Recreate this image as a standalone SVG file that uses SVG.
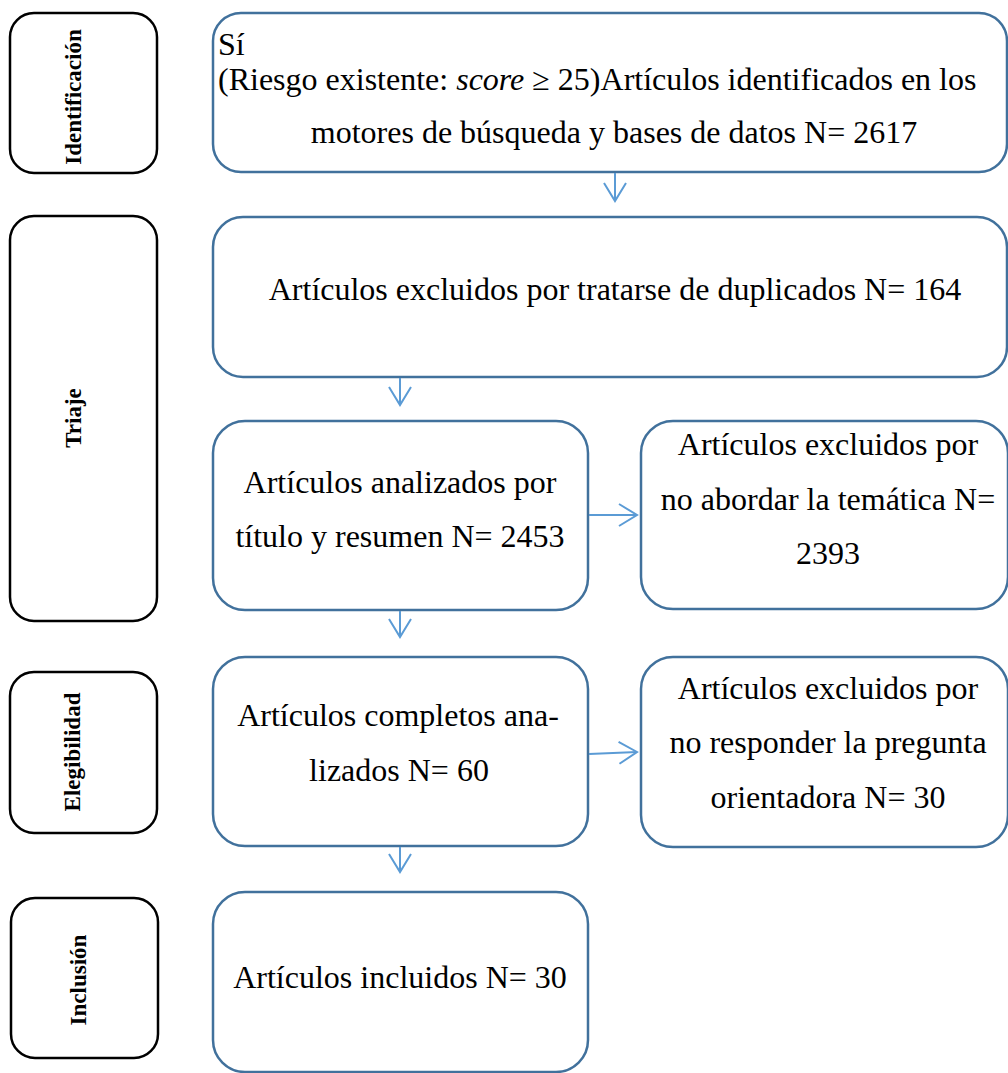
<svg xmlns="http://www.w3.org/2000/svg" width="1008" height="1073" viewBox="0 0 1008 1073">
  <defs>
    <style>
      .stage { fill: #ffffff; stroke: #000000; stroke-width: 2.5; }
      .box { fill: #ffffff; stroke: #41719C; stroke-width: 2.5; }
      .lbl { font-family: "Liberation Serif", "Times New Roman", serif; font-weight: bold; font-size: 23px; fill: #000; text-anchor: middle; }
      .txt { font-family: "Liberation Serif", "Times New Roman", serif; font-size: 32px; fill: #000; text-anchor: middle; }
      .conn { stroke: #5B9BD5; stroke-width: 2; fill: none; }
    </style>
    <marker id="arr" markerWidth="22" markerHeight="26" refX="20" refY="13" orient="auto" markerUnits="userSpaceOnUse">
      <path d="M2,2 L20,13 L2,24" fill="none" stroke="#5B9BD5" stroke-width="2"/>
    </marker>
  </defs>
  <rect width="1008" height="1073" fill="#ffffff"/>

  <g id="stage-identificacion">
    <rect class="stage" x="10" y="13" width="147" height="160" rx="24"/>
    <text class="lbl" transform="translate(81,97) rotate(-90)">Identificación</text>
  </g>
  <g id="stage-triaje">
    <rect class="stage" x="10" y="216" width="147" height="405" rx="24"/>
    <text class="lbl" transform="translate(81,418) rotate(-90)">Triaje</text>
  </g>
  <g id="stage-elegibilidad">
    <rect class="stage" x="10" y="672" width="147" height="161" rx="24"/>
    <text class="lbl" transform="translate(80,752) rotate(-90)">Elegibilidad</text>
  </g>
  <g id="stage-inclusion">
    <rect class="stage" x="11" y="898" width="147" height="160" rx="24"/>
    <text class="lbl" transform="translate(86,980) rotate(-90)">Inclusión</text>
  </g>

  <g id="node-identificados">
    <rect class="box" x="213" y="13" width="794" height="159" rx="28"/>
    <text class="txt" x="218" y="55" text-anchor="start" style="text-anchor:start">Sí</text>
    <text class="txt" x="218" y="90" style="text-anchor:start">(Riesgo existente: <tspan font-style="italic">score</tspan> ≥ 25)Artículos identificados en los</text>
    <text class="txt" x="614" y="143">motores de búsqueda y bases de datos N= 2617</text>
  </g>
  <g id="node-duplicados">
    <rect class="box" x="213" y="217" width="794" height="160" rx="30"/>
    <text class="txt" x="615" y="300">Artículos excluidos por tratarse de duplicados N= 164</text>
  </g>
  <g id="node-analizados">
    <rect class="box" x="213" y="421" width="375" height="189" rx="32"/>
    <text class="txt" x="400" y="493">Artículos analizados por</text>
    <text class="txt" x="400" y="547">título y resumen N= 2453</text>
  </g>
  <g id="node-tematica">
    <rect class="box" x="641" y="421" width="367" height="188" rx="32"/>
    <text class="txt" x="828" y="455">Artículos excluidos por</text>
    <text class="txt" x="828" y="510">no abordar la temática N=</text>
    <text class="txt" x="828" y="564">2393</text>
  </g>
  <g id="node-completos">
    <rect class="box" x="213" y="657" width="375" height="189" rx="32"/>
    <text class="txt" x="398" y="726">Artículos completos ana-</text>
    <text class="txt" x="399" y="781">lizados N= 60</text>
  </g>
  <g id="node-pregunta">
    <rect class="box" x="641" y="657" width="367" height="190" rx="32"/>
    <text class="txt" x="828" y="699">Artículos excluidos por</text>
    <text class="txt" x="828" y="753">no responder la pregunta</text>
    <text class="txt" x="828" y="808">orientadora N= 30</text>
  </g>
  <g id="node-incluidos">
    <rect class="box" x="213" y="892" width="375" height="180" rx="32"/>
    <text class="txt" x="400" y="988">Artículos incluidos N= 30</text>
  </g>

  <g id="connectors">
    <line class="conn" x1="615" y1="173" x2="615" y2="201" marker-end="url(#arr)"/>
    <line class="conn" x1="400" y1="378" x2="400" y2="405" marker-end="url(#arr)"/>
    <line class="conn" x1="589" y1="515" x2="637" y2="515" marker-end="url(#arr)"/>
    <line class="conn" x1="400" y1="611" x2="400" y2="637" marker-end="url(#arr)"/>
    <line class="conn" x1="589" y1="754" x2="637" y2="752" marker-end="url(#arr)"/>
    <line class="conn" x1="400" y1="847" x2="400" y2="872" marker-end="url(#arr)"/>
  </g>
</svg>
